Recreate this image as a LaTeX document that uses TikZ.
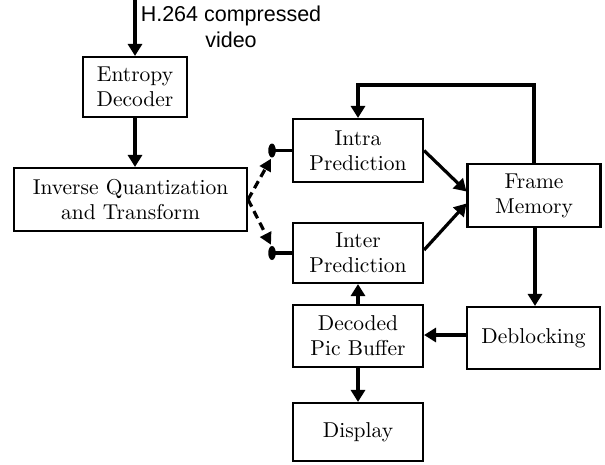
\documentclass[tikz,border=0pt]{standalone}
\usepackage{fontspec}
\newfontfamily\labelsans{Liberation Sans}
\newfontfamily\boxfont{lmroman10-regular.otf}
\usetikzlibrary{arrows.meta,calc,shapes.geometric}
\begin{document}
\begin{tikzpicture}[x=1pt,y=-1pt,
  blk/.style={draw,line width=2.1pt,inner sep=0pt,align=center,
    font=\boxfont\fontsize{21.5}{25}\selectfont},
  arr/.style={line width=3.2pt,-{Triangle[length=12pt,width=14pt]}},
  dasharr/.style={line width=3.2pt,dash pattern=on 8pt off 5pt,-{Triangle[length=12pt,width=12pt]}},
  dotnode/.style={ellipse,fill=black,inner sep=0pt,minimum width=7.5pt,minimum height=14pt},
  plain/.style={line width=3.2pt}]
\useasboundingbox (0,0) rectangle (605,464);
\node[blk,minimum width=104pt,minimum height=60pt] (ent) at (135,87) {Entropy\\Decoder};
\node[blk,minimum width=233pt,minimum height=63pt] (iq) at (130.5,199.5) {Inverse Quantization\\and Transform};
\node[blk,minimum width=130pt,minimum height=63pt] (intra) at (358,150.5) {Intra\\Prediction};
\node[blk,minimum width=130pt,minimum height=60pt] (inter) at (358,253) {Inter\\Prediction};
\node[blk,minimum width=133pt,minimum height=63pt] (frame) at (534,195.5) {Frame\\Memory};
\node[blk,minimum width=133pt,minimum height=62pt] (debl) at (533.5,338) {Deblocking};
\node[blk,minimum width=130pt,minimum height=62pt] (dpb) at (358,336) {Decoded\\Pic Buffer};
\node[blk,minimum width=130pt,minimum height=58pt] (disp) at (358,432) {Display};
\node[align=center,inner sep=0pt,font=\labelsans\fontsize{21.5}{26}\selectfont] (lbl) at (231,27) {H.264 compressed\\video};
\coordinate (in) at (135,0);
\coordinate (fb) at (445,85);
\coordinate (fs) at ($(frame.south)+(1,0)$);
\coordinate (dw) at ($(debl.west)+(0,-3)$);
\node[dotnode] (d1) at (272,150.5) {};
\node[dotnode] (d2) at (272,253) {};
% connectors
\draw[arr] (in) -- (ent.north);
\draw[arr] (ent.south) -- (ent.south |- iq.north);
\draw[plain] (d1.center) -- (intra.west);
\draw[plain] (d2.center) -- (inter.west);
\draw[dasharr] (iq.east) -- ($(d1.south)+(-1,1)$);
\draw[dasharr] (iq.east) -- ($(d2.north)+(-1,-1)$);
\draw[arr] (intra.east) -- ($(frame.west)+(0,-4)$);
\draw[arr] ($(inter.east)+(0,-3)$) -- ($(frame.west)+(0,8)$);
\draw[arr] (frame.north) |- (fb) -| (intra.north);
\draw[arr] (fs) -- (fs |- debl.north);
\draw[arr] (dw) -- (dw -| dpb.east);
\draw[arr] (dpb.north) -- (inter.south);
\draw[arr] (dpb.south) -- (disp.north);
\end{tikzpicture}
\end{document}
